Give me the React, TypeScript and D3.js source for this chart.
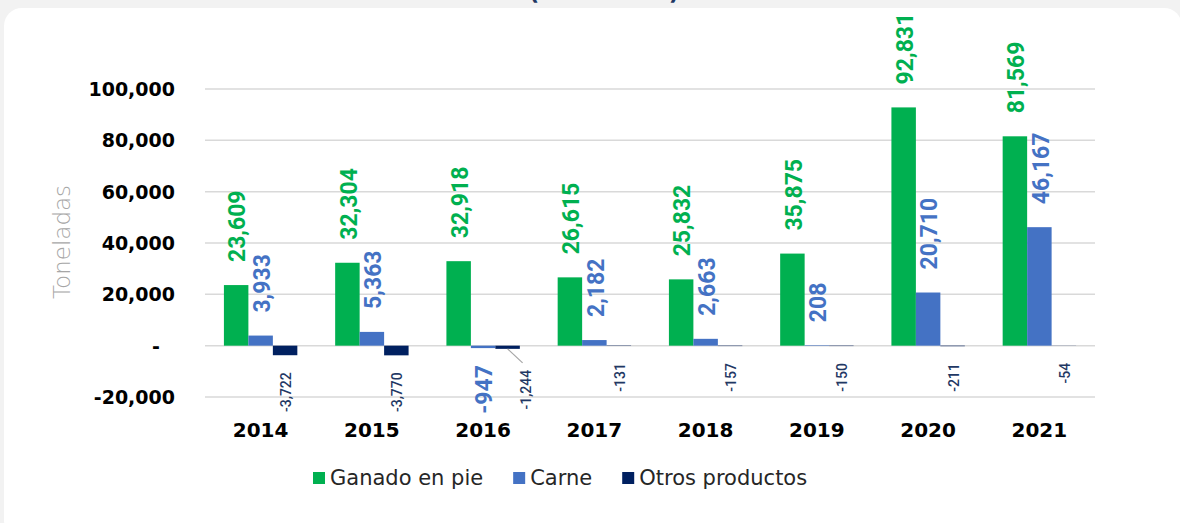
import React, { useEffect, useRef } from 'react';
import * as d3 from 'd3';

const years = ['2014', '2015', '2016', '2017', '2018', '2019', '2020', '2021'];
const ganadoEnPie = [23609, 32304, 32918, 26615, 25832, 35875, 92831, 81569];
const carne = [3933, 5363, -947, 2182, 2663, 208, 20710, 46167];
const otrosProductos = [-3722, -3770, -1244, -131, -157, -150, -211, -54];
const seriesNames = ['Ganado en pie', 'Carne', 'Otros productos'];
const yTicks = [-20000, 0, 20000, 40000, 60000, 80000, 100000];

const App = () => {
  const ref = useRef(null);

  useEffect(() => {
    if (!ref.current) return;
    const W = 1180;
    const H = 523;
    const plot = { left: 205, right: 1095, top: 89, bottom: 397 };

    d3.select(ref.current).selectAll('*').remove();
    const svg = d3.select(ref.current)
      .append('svg')
      .attr('width', W)
      .attr('height', H)
      .style('position', 'absolute')
      .style('left', '0px')
      .style('top', '0px');

    // page background + card
    svg.append('rect').attr('width', W).attr('height', H).attr('fill', '#f2f2f2');
    svg.append('rect')
      .attr('x', 4).attr('y', 8)
      .attr('width', 1178).attr('height', 530)
      .attr('rx', 18)
      .attr('fill', '#ffffff');

    // title, mostly cut off at the top of the picture
    svg.append('text')
      .attr('x', 604).attr('y', 0)
      .attr('text-anchor', 'middle')
      .style('font-family', 'DejaVu Sans')
      .style('font-weight', 'bold')
      .style('font-size', '23px')
      .style('fill', '#1f3864')
      .text('(Toneladas)');

    const series = [
      { name: seriesNames[0], values: ganadoEnPie, color: '#00b050', labelColor: '#00b050', fontSize: 23, weight: 700 },
      { name: seriesNames[1], values: carne, color: '#4472c4', labelColor: '#4472c4', fontSize: 23, weight: 700 },
      { name: seriesNames[2], values: otrosProductos, color: '#002060', labelColor: '#1f3864', fontSize: 14, weight: 500 },
    ];

    const y = d3.scaleLinear().domain([-20000, 100000]).range([plot.bottom, plot.top]);
    const x0 = d3.scaleBand()
      .domain(years)
      .range([plot.left, plot.right])
      .paddingInner(0.34)
      .paddingOuter(0.17);
    const x1 = d3.scaleBand()
      .domain(seriesNames)
      .range([0, x0.bandwidth()]);

    // gridlines
    svg.append('g')
      .selectAll('line')
      .data(yTicks)
      .enter().append('line')
      .attr('x1', plot.left)
      .attr('x2', plot.right)
      .attr('y1', d => y(d))
      .attr('y2', d => y(d))
      .attr('stroke', '#d9d9d9')
      .attr('stroke-width', 1.5);

    // excel style: plain hyphen for negatives
    const fmt = v => d3.format(',')(v).replace('\u2212', '-');

    // y tick labels
    svg.append('g')
      .selectAll('text')
      .data(yTicks)
      .enter().append('text')
      .attr('x', d => (d === 0 ? 160 : 175))
      .attr('y', d => y(d))
      .attr('dy', '0.36em')
      .attr('text-anchor', 'end')
      .style('font-family', 'DejaVu Sans')
      .style('font-weight', 'bold')
      .style('font-size', '19px')
      .style('fill', '#000')
      .text(d => (d === 0 ? '-' : fmt(d)));

    // y axis title
    svg.append('text')
      .attr('transform', `translate(62,${(plot.top + plot.bottom) / 2 - 1}) rotate(-90)`)
      .attr('text-anchor', 'middle')
      .attr('dy', '0.35em')
      .style('font-family', 'DejaVu Sans')
      .style('font-weight', 200)
      .style('font-size', '23px')
      .style('fill', '#a6a6a6')
      .text('Toneladas');

    // bars
    series.forEach(s => {
      svg.append('g')
        .selectAll('rect')
        .data(s.values)
        .enter().append('rect')
        .attr('x', (d, i) => x0(years[i]) + x1(s.name))
        .attr('y', d => y(Math.max(0, d)))
        .attr('width', x1.bandwidth())
        .attr('height', d => Math.abs(y(d) - y(0)))
        .attr('fill', s.color);
    });

    // data labels
    series.forEach((s, si) => {
      s.values.forEach((v, i) => {
        let cx = x0(years[i]) + x1(s.name) + x1.bandwidth() / 2;
        let yy;
        let anchor;
        if (v >= 0) {
          yy = y(v) - 23;
          anchor = 'start';
        } else {
          yy = y(v) + 17;
          anchor = 'end';
          // navy label pushed aside when the blue one is also below zero
          if (si === 2 && carne[i] < 0) {
            const bx = cx;
            const by = y(v);
            cx += 17;
            yy = y(v) + 21;
            svg.append('line')
              .attr('x1', bx).attr('y1', by)
              .attr('x2', bx + 15).attr('y2', by + 14)
              .attr('stroke', '#a6a6a6')
              .attr('stroke-width', 1.2);
          }
        }
        svg.append('text')
          .attr('transform', `translate(${cx + 1},${yy}) rotate(-90)`)
          .attr('text-anchor', anchor)
          .attr('dy', '0.36em')
          .style('font-family', 'Roboto')
          .style('font-weight', s.weight)
          .style('font-size', `${s.fontSize}px`)
          .style('fill', s.labelColor)
          .text(fmt(v));
      });
    });

    // category labels
    svg.append('g')
      .selectAll('text')
      .data(years)
      .enter().append('text')
      .attr('x', d => x0(d) + x0.bandwidth() / 2)
      .attr('y', 437)
      .attr('text-anchor', 'middle')
      .style('font-family', 'DejaVu Sans')
      .style('font-weight', 'bold')
      .style('font-size', '20px')
      .style('fill', '#000')
      .text(d => d);

    // legend
    const legend = svg.append('g');
    let lx = 313;
    series.forEach(s => {
      legend.append('rect')
        .attr('x', lx).attr('y', 472)
        .attr('width', 12).attr('height', 12)
        .attr('fill', s.color);
      const t = legend.append('text')
        .attr('x', lx + 17)
        .attr('y', 485)
        .style('font-family', 'DejaVu Sans')
        .style('font-size', '21px')
        .style('fill', '#262626')
        .text(s.name);
      lx += 17 + t.node().getComputedTextLength() + 30;
    });
  }, []);

  return <div ref={ref} />;
};

export default App;
